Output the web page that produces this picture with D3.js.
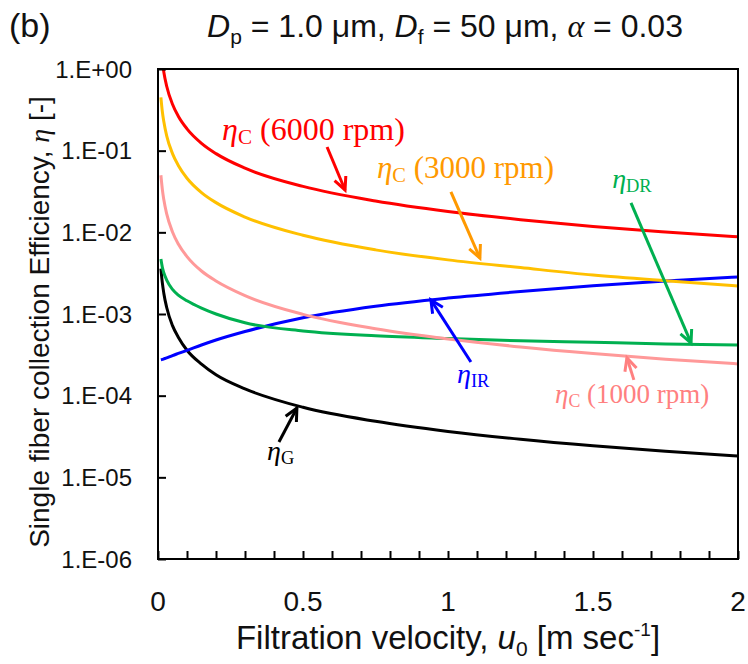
<!DOCTYPE html>
<html>
<head>
<meta charset="utf-8">
<script src="https://cdn.jsdelivr.net/npm/d3@7"></script>
<style>
  body { margin: 0; background: #fff; }
  text { font-family: "Liberation Sans", Arial, sans-serif; }
  .serif { font-family: "Liberation Serif", "Times New Roman", serif; }
</style>
</head>
<body>
<svg></svg>
<script>
const width = 748;
const height = 664;

// filtration velocity u0 [m/s]
const velocity = [0.01, 0.015, 0.02, 0.03, 0.05, 0.07, 0.1, 0.15, 0.2, 0.3, 0.5, 0.75, 1, 1.25, 1.5, 1.75, 2];

// single fiber efficiencies
const etaC6000 = [1.85, 1.23, 0.92, 0.615, 0.37, 0.264, 0.185, 0.123, 0.092, 0.061, 0.0365, 0.0242, 0.018, 0.0143, 0.0118, 0.0101, 0.0088];
const etaC3000 = [0.45, 0.3, 0.228, 0.152, 0.092, 0.066, 0.046, 0.0307, 0.0231, 0.0154, 0.0092, 0.0061, 0.0046, 0.0037, 0.003, 0.00255, 0.0022];
const etaC1000 = [0.05, 0.0335, 0.0252, 0.0168, 0.0101, 0.0072, 0.00505, 0.00336, 0.00254, 0.00168, 0.00099, 0.00066, 0.000495, 0.000395, 0.000328, 0.00028, 0.000245];
const etaDR = [0.0047, 0.00372, 0.0032, 0.0026, 0.002, 0.0017, 0.00145, 0.00118, 0.001, 0.00078, 0.00062, 0.00054, 0.0005, 0.00047, 0.00045, 0.00043, 0.000418];
const etaIR = [0.000275, 0.000278, 0.000282, 0.00029, 0.00031, 0.000329, 0.000359, 0.000417, 0.00048, 0.00061, 0.0009, 0.001245, 0.001567, 0.001884, 0.002213, 0.00253, 0.00284];
const etaG = [0.0036, 0.0024, 0.0018, 0.0012, 0.00072, 0.00052, 0.00036, 0.000243, 0.00018, 0.000121, 0.000072, 0.0000485, 0.0000365, 0.0000292, 0.0000243, 0.0000208, 0.0000182];

const yTickValues = [1, 1e-1, 1e-2, 1e-3, 1e-4, 1e-5, 1e-6];
const yTickLabels = ["1.E+00", "1.E-01", "1.E-02", "1.E-03", "1.E-04", "1.E-05", "1.E-06"];
const xTickValues = [0, 0.5, 1, 1.5, 2];
const xTickLabels = ["0", "0.5", "1", "1.5", "2"];

const series = [
  {values: etaG, color: "#000000"},
  {values: etaIR, color: "#0000ff"},
  {values: etaDR, color: "#00b050"},
  {values: etaC1000, color: "#ff9999"},
  {values: etaC3000, color: "#ffc000"},
  {values: etaC6000, color: "#ff0000"}
];

// label text, label anchor [u, eta], arrow tail and head [u, eta]
const notes = [
  {main: "η", sub: "C", rest: " (6000 rpm)", color: "#ff0000", size: 32, at: [0.221, 0.135], from: [0.583, 0.111], to: [0.645, 0.033]},
  {main: "η", sub: "C", rest: " (3000 rpm)", color: "#ff9900", size: 31, at: [0.755, 0.0463], from: [1.010, 0.0312], to: [1.110, 0.00485]},
  {main: "η", sub: "DR", rest: "", color: "#00b050", size: 28, at: [1.566, 0.0349], from: [1.631, 0.0229], to: [1.838, 0.000442]},
  {main: "η", sub: "IR", rest: "", color: "#0000ff", size: 28, at: [1.031, 0.000143], from: [1.079, 0.000258], to: [0.941, 0.00149]},
  {main: "η", sub: "C", rest: " (1000 rpm)", color: "#ff8080", size: 27, at: [1.369, 0.0000815], from: [1.641, 0.000156], to: [1.617, 0.00029]},
  {main: "η", sub: "G", rest: "", color: "#000000", size: 28, at: [0.376, 0.0000163], from: [0.417, 0.0000271], to: [0.479, 0.0000706]}
];

const plot = {left: 158, right: 738, top: 69, bottom: 559};

const x = d3.scaleLinear().domain([0, 2]).range([plot.left, plot.right]);
const y = d3.scaleLog().domain([1e-6, 1]).range([plot.bottom, plot.top]);

const svg = d3.select("svg")
  .attr("width", width)
  .attr("height", height);

svg.append("rect").attr("width", width).attr("height", height).attr("fill", "#fff");

svg.append("clipPath").attr("id", "clip")
  .append("rect")
    .attr("x", plot.left).attr("y", plot.top)
    .attr("width", plot.right - plot.left).attr("height", plot.bottom - plot.top);

// curves
const line = d3.line()
  .x(function (d) { return x(d[0]); })
  .y(function (d) { return y(d[1]); })
  .curve(d3.curveMonotoneX);

svg.append("g").attr("clip-path", "url(#clip)")
  .selectAll("path")
  .data(series)
  .enter().append("path")
    .attr("d", function (s) { return line(velocity.map(function (u, i) { return [u, s.values[i]]; })); })
    .attr("fill", "none")
    .attr("stroke", function (s) { return s.color; })
    .attr("stroke-width", 3);

// frame
svg.append("rect")
  .attr("x", plot.left).attr("y", plot.top)
  .attr("width", plot.right - plot.left).attr("height", plot.bottom - plot.top)
  .attr("fill", "none").attr("stroke", "#000").attr("stroke-width", 2);

// y axis: ticks inward
const yAxis = d3.axisRight(y).tickValues(yTickValues).tickSize(8).tickFormat("");
svg.append("g").attr("transform", "translate(" + plot.left + ",0)").call(yAxis)
  .call(function (g) { g.select(".domain").remove(); })
  .selectAll("line").attr("stroke", "#000").attr("stroke-width", 2);

svg.append("g").selectAll("text")
  .data(yTickValues)
  .enter().append("text")
    .attr("x", 132)
    .attr("y", function (d) { return y(d); })
    .attr("dy", "0.36em")
    .attr("text-anchor", "end")
    .attr("font-size", 24)
    .attr("fill", "#111")
    .text(function (d, i) { return yTickLabels[i]; });

// x axis: minor ticks inward every 0.1
const xAxis = d3.axisTop(x).ticks(20).tickSize(8).tickFormat("");
svg.append("g").attr("transform", "translate(0," + plot.bottom + ")").call(xAxis)
  .call(function (g) { g.select(".domain").remove(); })
  .selectAll("line").attr("stroke", "#000").attr("stroke-width", 2);

svg.append("g").selectAll("text")
  .data(xTickValues)
  .enter().append("text")
    .attr("x", function (d) { return x(d); })
    .attr("y", 611)
    .attr("text-anchor", "middle")
    .attr("font-size", 28)
    .attr("fill", "#111")
    .text(function (d, i) { return xTickLabels[i]; });

// axis titles
const xTitle = svg.append("text")
  .attr("x", 448).attr("y", 649)
  .attr("text-anchor", "middle")
  .attr("font-size", 33)
  .attr("fill", "#111");
xTitle.append("tspan").text("Filtration velocity, ");
xTitle.append("tspan").attr("font-style", "italic").text("u");
xTitle.append("tspan").attr("font-size", 21).attr("dy", 7).text("0");
xTitle.append("tspan").attr("dy", -7).text(" [m sec");
xTitle.append("tspan").attr("font-size", 19).attr("dy", -13).text("-1");
xTitle.append("tspan").attr("dy", 13).text("]");

const yTitle = svg.append("text")
  .attr("transform", "translate(49,322) rotate(-90)")
  .attr("text-anchor", "middle")
  .attr("font-size", 28)
  .attr("fill", "#111");
yTitle.append("tspan").text("Single fiber collection Efficiency, ");
yTitle.append("tspan").attr("class", "serif").attr("font-style", "italic").text("η");
yTitle.append("tspan").text(" [-]");

// header
svg.append("text")
  .attr("x", 9).attr("y", 37)
  .attr("font-size", 34)
  .attr("fill", "#111")
  .text("(b)");

const header = svg.append("text")
  .attr("x", 445).attr("y", 37)
  .attr("text-anchor", "middle")
  .attr("font-size", 32)
  .attr("fill", "#111");
header.append("tspan").attr("font-style", "italic").text("D");
header.append("tspan").attr("font-size", 21).attr("dy", 7).text("p");
header.append("tspan").attr("dy", -7).text(" = 1.0 μm, ");
header.append("tspan").attr("font-style", "italic").text("D");
header.append("tspan").attr("font-size", 21).attr("dy", 7).text("f");
header.append("tspan").attr("dy", -7).text(" = 50 μm, ");
header.append("tspan").attr("class", "serif").attr("font-style", "italic").text("α");
header.append("tspan").text(" = 0.03");

// annotations
function arrow(g, from, to, color) {
  const x1 = x(from[0]), y1 = y(from[1]), x2 = x(to[0]), y2 = y(to[1]);
  const a = Math.atan2(y2 - y1, x2 - x1);
  const len = 14, spread = 0.45;
  g.append("line")
    .attr("x1", x1).attr("y1", y1).attr("x2", x2).attr("y2", y2)
    .attr("stroke", color).attr("stroke-width", 3);
  g.append("path")
    .attr("d", "M" + (x2 - len * Math.cos(a - spread)) + "," + (y2 - len * Math.sin(a - spread)) +
               "L" + x2 + "," + y2 +
               "L" + (x2 - len * Math.cos(a + spread)) + "," + (y2 - len * Math.sin(a + spread)))
    .attr("fill", "none").attr("stroke", color).attr("stroke-width", 3)
    .attr("stroke-linejoin", "miter");
}

const noteLayer = svg.append("g");
notes.forEach(function (n) {
  arrow(noteLayer, n.from, n.to, n.color);
  const t = noteLayer.append("text")
    .attr("class", "serif")
    .attr("x", x(n.at[0])).attr("y", y(n.at[1]))
    .attr("font-size", n.size)
    .attr("fill", n.color);
  t.append("tspan").attr("font-style", "italic").text(n.main);
  t.append("tspan").attr("font-size", n.size * 0.66).attr("dy", 4).text(n.sub);
  if (n.rest) t.append("tspan").attr("dy", -4).text(n.rest);
});
</script>
</body>
</html>
